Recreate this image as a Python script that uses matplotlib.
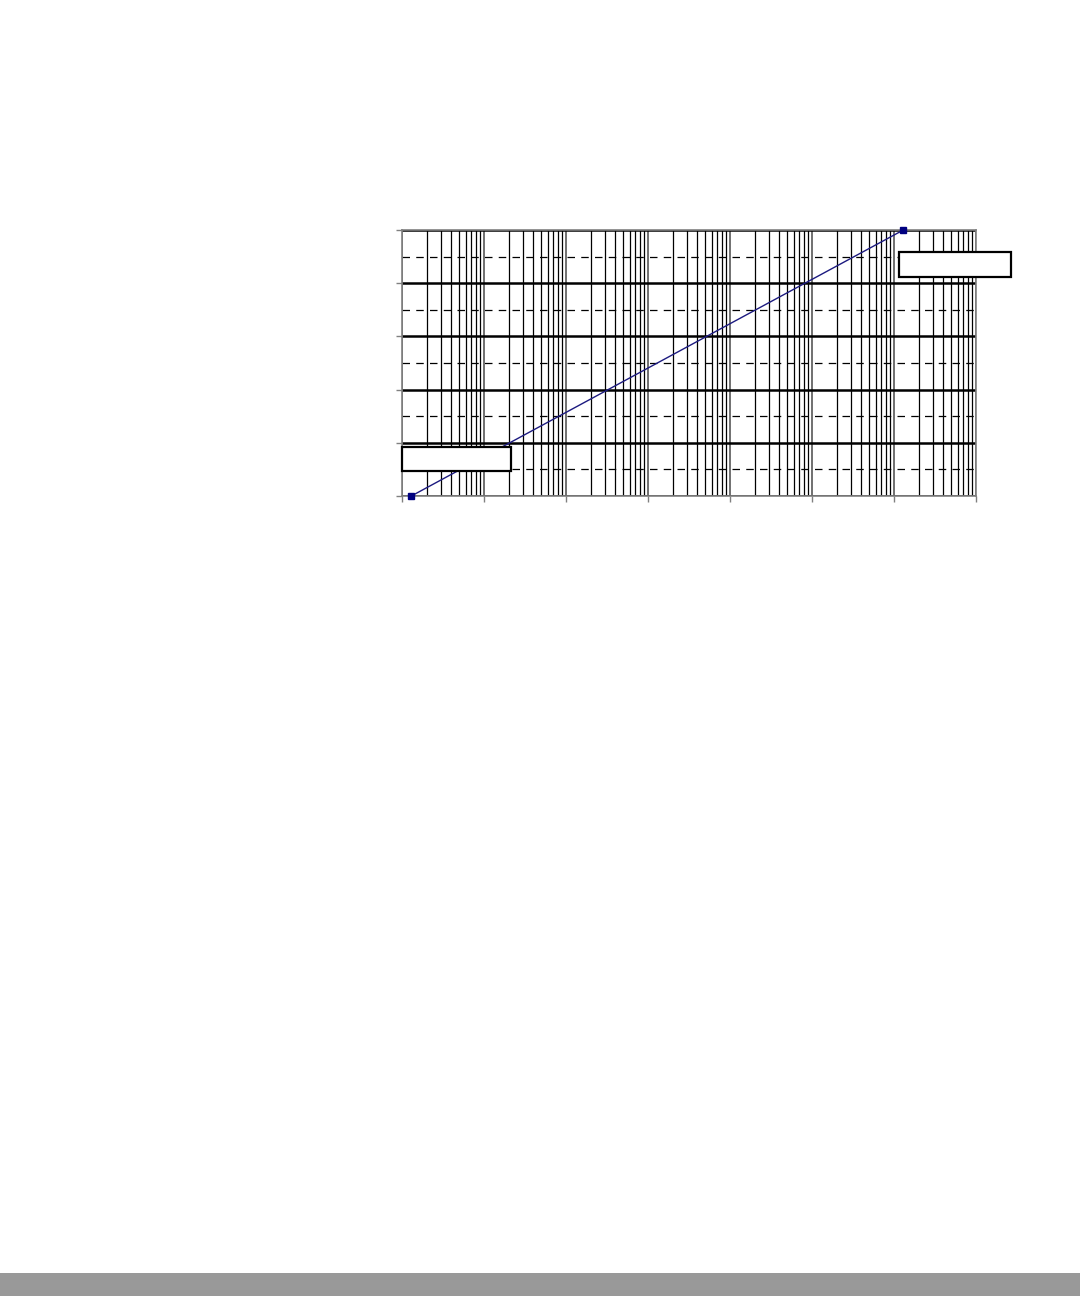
import numpy as np
import matplotlib.pyplot as plt
from matplotlib.patches import Rectangle
from matplotlib.ticker import LogLocator, MultipleLocator, NullFormatter

# data (log x axis, linear y axis, no labels shown)
x_values = [1.3, 1.3e6]
y_values = [0.0, 5.0]
x_range = [1, 1e7]
y_range = [0, 5]

fig = plt.figure(figsize=(10.8, 12.96), dpi=100)
ax = fig.add_axes([402 / 1080, 800 / 1296, 574 / 1080, 266 / 1296])

ax.set_xscale('log')
ax.set_xlim(x_range)
ax.set_ylim(y_range)

ax.xaxis.set_major_locator(LogLocator(base=10, numticks=20))
ax.xaxis.set_minor_locator(LogLocator(base=10, subs=np.arange(2, 10), numticks=100))
ax.yaxis.set_major_locator(MultipleLocator(1))
ax.yaxis.set_minor_locator(MultipleLocator(0.5))
ax.xaxis.set_major_formatter(NullFormatter())
ax.xaxis.set_minor_formatter(NullFormatter())
ax.yaxis.set_major_formatter(NullFormatter())

# grid: thick solid horizontals, dashed half steps, thin verticals
ax.grid(True, axis='y', which='major', color='black', lw=1.8, ls='-')
ax.grid(True, axis='y', which='minor', color='black', lw=0.9, ls=(0, (6, 5)))
ax.grid(True, axis='x', which='major', color='#707070', lw=1.4, ls='-')
ax.grid(True, axis='x', which='minor', color='black', lw=0.9, ls='-')

ax.tick_params(axis='both', which='major', direction='out', length=4, width=1, color='#808080')
ax.tick_params(axis='both', which='minor', length=0)
for s in ax.spines.values():
    s.set_color('#808080')
    s.set_linewidth(1.2)

ax.plot(x_values, y_values, color='#1c1a80', lw=1, marker='s', ms=4,
        mfc='#000080', mec='#000080', clip_on=False, zorder=5)

# two empty label boxes
fig.add_artist(Rectangle((402 / 1080, (1296 - 471) / 1296), 109 / 1080, 24 / 1296,
                         transform=fig.transFigure, facecolor='white', edgecolor='black',
                         lw=1.6, zorder=10))
fig.add_artist(Rectangle((899 / 1080, (1296 - 277) / 1296), 112 / 1080, 25 / 1296,
                         transform=fig.transFigure, facecolor='white', edgecolor='black',
                         lw=1.6, zorder=10))

# gray strip at the bottom of the page
fig.add_artist(Rectangle((0, 0), 1, 23 / 1296, transform=fig.transFigure,
                         facecolor='#999999', edgecolor='none'))

plt.savefig('out.png', dpi=100)
